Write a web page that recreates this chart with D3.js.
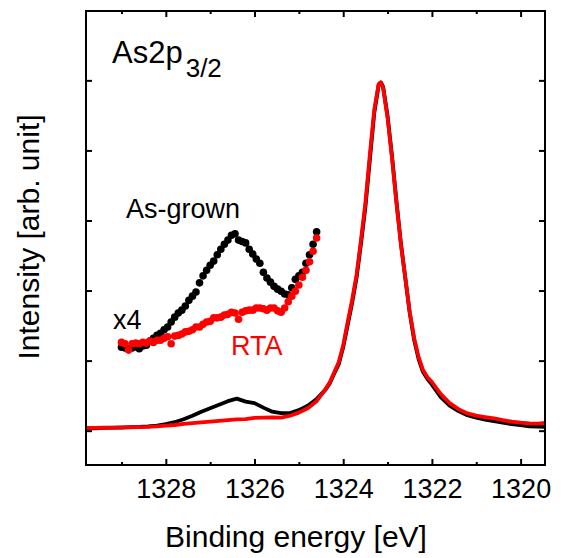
<!DOCTYPE html>
<html>
<head>
<meta charset="utf-8">
<script src="https://cdn.jsdelivr.net/npm/d3@7"></script>
<style>
  body { margin: 0; background: #fff; }
  svg text { font-family: "Liberation Sans", Arial, sans-serif; fill: #000; }
</style>
</head>
<body>
<svg id="chart" width="563" height="558"></svg>
<script>
// binding energy grid of the full spectra (eV)
const lineEnergy = [
  1329.8, 1329.6, 1329.4, 1329.2, 1329.0, 1328.8, 1328.6, 1328.4, 1328.2, 1328.0,
  1327.8, 1327.6, 1327.4, 1327.2, 1327.0, 1326.8, 1326.6, 1326.4, 1326.2, 1326.0,
  1325.8, 1325.6, 1325.4, 1325.2, 1325.0, 1324.8, 1324.6, 1324.4, 1324.3, 1324.2,
  1324.1, 1324.0, 1323.9, 1323.8, 1323.7, 1323.6, 1323.5, 1323.4, 1323.3, 1323.2,
  1323.15, 1323.1, 1323.0, 1322.9, 1322.8, 1322.7, 1322.6, 1322.5, 1322.4, 1322.3,
  1322.2, 1322.1, 1322.0, 1321.8, 1321.6, 1321.4, 1321.2, 1321.0, 1320.8, 1320.6,
  1320.4, 1320.2, 1320.0, 1319.8, 1319.6, 1319.45
];

const asGrownLine = [
  0.036, 0.033, 0.039, 0.043, 0.043, 0.050, 0.053, 0.060, 0.071, 0.093,
  0.121, 0.164, 0.214, 0.271, 0.321, 0.371, 0.421, 0.457, 0.414, 0.393,
  0.329, 0.271, 0.250, 0.250, 0.293, 0.357, 0.450, 0.586, 0.679, 0.821,
  0.950, 1.193, 1.507, 1.821, 2.179, 2.664, 3.193, 3.864, 4.536, 4.936,
  4.971, 4.907, 4.493, 3.921, 3.279, 2.679, 2.179, 1.679, 1.293, 1.021,
  0.836, 0.736, 0.657, 0.479, 0.357, 0.279, 0.221, 0.186, 0.157, 0.136,
  0.114, 0.093, 0.079, 0.061, 0.057, 0.054
];

const rtaLine = [
  0.040, 0.039, 0.043, 0.041, 0.046, 0.047, 0.050, 0.053, 0.060, 0.071,
  0.081, 0.096, 0.107, 0.119, 0.129, 0.140, 0.150, 0.160, 0.164, 0.183,
  0.186, 0.189, 0.186, 0.214, 0.257, 0.321, 0.421, 0.593, 0.693, 0.836,
  0.979, 1.221, 1.550, 1.864, 2.221, 2.721, 3.250, 3.936, 4.579, 4.950,
  4.971, 4.893, 4.464, 3.893, 3.250, 2.664, 2.179, 1.693, 1.321, 1.050,
  0.864, 0.764, 0.693, 0.521, 0.393, 0.307, 0.246, 0.214, 0.193, 0.174,
  0.150, 0.129, 0.114, 0.104, 0.100, 0.111
];

// x4 magnified and shifted As 2p shoulder region
const dotEnergy = [
  1329.00, 1328.92, 1328.84, 1328.76, 1328.68, 1328.60, 1328.52, 1328.44, 1328.36, 1328.28,
  1328.20, 1328.12, 1328.04, 1327.96, 1327.88, 1327.80, 1327.72, 1327.64, 1327.56, 1327.48,
  1327.40, 1327.32, 1327.24, 1327.16, 1327.08, 1327.00, 1326.92, 1326.84, 1326.76, 1326.68,
  1326.60, 1326.52, 1326.44, 1326.36, 1326.28, 1326.20, 1326.12, 1326.04, 1325.96, 1325.88,
  1325.80, 1325.72, 1325.64, 1325.56, 1325.48, 1325.40, 1325.32, 1325.24, 1325.16, 1325.08,
  1325.00, 1324.92, 1324.84, 1324.76, 1324.68, 1324.60
];

const asGrownDots = [
  1.19, 1.18, 1.17, 1.18, 1.20, 1.17, 1.21, 1.22, 1.28, 1.32,
  1.36, 1.39, 1.44, 1.48, 1.55, 1.62, 1.68, 1.72, 1.78, 1.86,
  1.92, 1.98, 2.11, 2.21, 2.29, 2.36, 2.42, 2.51, 2.59, 2.66,
  2.72, 2.79, 2.81, 2.72, 2.70, 2.68, 2.59, 2.52, 2.45, 2.39,
  2.26, 2.18, 2.12, 2.06, 2.02, 1.99, 1.95, 1.94, 2.04, 2.16,
  2.21, 2.26, 2.39, 2.51, 2.66, 2.84
];

const rtaDots = [
  1.26, 1.24, 1.15, 1.24, 1.25, 1.24, 1.26, 1.25, 1.28, 1.26,
  1.29, 1.29, 1.32, 1.34, 1.24, 1.35, 1.36, 1.38, 1.41, 1.42,
  1.44, 1.48, 1.48, 1.52, 1.55, 1.56, 1.61, 1.61, 1.62, 1.65,
  1.66, 1.69, 1.68, 1.59, 1.69, 1.71, 1.72, 1.72, 1.75, 1.75,
  1.74, 1.72, 1.75, 1.75, 1.71, 1.69, 1.75, 1.84, 1.92, 1.99,
  2.08, 2.19, 2.29, 2.41, 2.56, 2.75
];

const xTicks = [1328, 1326, 1324, 1322, 1320];
const xMinorTicks = [1329, 1327, 1325, 1323, 1321];
const yTicks = [0, 1, 2, 3, 4, 5];

const svg = d3.select('#chart');
const width = 563, height = 558;
const margin = { top: 11, right: 18, bottom: 93, left: 86 };

const x = d3.scaleLinear()
  .domain([1329.8, 1319.45])
  .range([margin.left, width - margin.right]);

const y = d3.scaleLinear()
  .domain([-0.49, 5.99])
  .range([height - margin.bottom, margin.top]);

const zip = (es, vs) => es.map((e, i) => ({ e: e, v: vs[i] }));

// axes, ticks pointing inward
svg.append('g')
  .attr('transform', `translate(0,${height - margin.bottom})`)
  .call(d3.axisBottom(x).tickValues(xTicks).tickSize(-6).tickPadding(14).tickFormat(d3.format('d')))
  .call(g => g.select('.domain').remove())
  .selectAll('text')
  .style('font-size', '27px');

svg.append('g')
  .attr('transform', `translate(0,${height - margin.bottom})`)
  .call(d3.axisBottom(x).tickValues(xMinorTicks).tickSize(-3).tickFormat(''))
  .call(g => g.select('.domain').remove());

svg.append('g')
  .attr('transform', `translate(0,${margin.top})`)
  .call(d3.axisTop(x).tickValues(xTicks).tickSize(-6).tickFormat(''))
  .call(g => g.select('.domain').remove());

svg.append('g')
  .attr('transform', `translate(0,${margin.top})`)
  .call(d3.axisTop(x).tickValues(xMinorTicks).tickSize(-3).tickFormat(''))
  .call(g => g.select('.domain').remove());

svg.append('g')
  .attr('transform', `translate(${margin.left},0)`)
  .call(d3.axisLeft(y).tickValues(yTicks).tickSize(-6).tickFormat(''))
  .call(g => g.select('.domain').remove());

svg.append('g')
  .attr('transform', `translate(${width - margin.right},0)`)
  .call(d3.axisRight(y).tickValues(yTicks).tickSize(-6).tickFormat(''))
  .call(g => g.select('.domain').remove());

svg.selectAll('.tick line')
  .attr('stroke', '#000')
  .attr('stroke-width', 2);

// spectra
const line = d3.line()
  .x(d => x(d.e))
  .y(d => y(d.v));

svg.append('path')
  .datum(zip(lineEnergy, asGrownLine))
  .attr('d', line)
  .attr('fill', 'none')
  .attr('stroke', '#000')
  .attr('stroke-width', 3.8)
  .attr('stroke-linejoin', 'round');

svg.append('path')
  .datum(zip(lineEnergy, rtaLine))
  .attr('d', line)
  .attr('fill', 'none')
  .attr('stroke', '#ff0000')
  .attr('stroke-width', 3.8)
  .attr('stroke-linejoin', 'round');

svg.selectAll('.dot-asgrown')
  .data(zip(dotEnergy, asGrownDots))
  .enter()
  .append('circle')
  .attr('class', 'dot-asgrown')
  .attr('cx', d => x(d.e))
  .attr('cy', d => y(d.v))
  .attr('r', 3.8)
  .attr('fill', '#000');

svg.selectAll('.dot-rta')
  .data(zip(dotEnergy, rtaDots))
  .enter()
  .append('circle')
  .attr('class', 'dot-rta')
  .attr('cx', d => x(d.e))
  .attr('cy', d => y(d.v))
  .attr('r', 3.8)
  .attr('fill', '#ff0000');

// frame
svg.append('rect')
  .attr('x', margin.left)
  .attr('y', margin.top)
  .attr('width', width - margin.left - margin.right)
  .attr('height', height - margin.top - margin.bottom)
  .attr('fill', 'none')
  .attr('stroke', '#000')
  .attr('stroke-width', 2);

// labels
const title = svg.append('text')
  .attr('x', 112)
  .attr('y', 63)
  .style('font-size', '31px');
title.append('tspan').text('As2p');
title.append('tspan')
  .attr('dx', 3)
  .attr('dy', 14)
  .style('font-size', '26px')
  .text('3/2');

svg.append('text')
  .attr('x', 126)
  .attr('y', 218)
  .style('font-size', '27px')
  .text('As-grown');

svg.append('text')
  .attr('x', 113)
  .attr('y', 329)
  .style('font-size', '27px')
  .text('x4');

svg.append('text')
  .attr('x', 231)
  .attr('y', 355)
  .style('font-size', '27px')
  .style('fill', '#ff0000')
  .text('RTA');

svg.append('text')
  .attr('x', 296)
  .attr('y', 547)
  .style('text-anchor', 'middle')
  .style('font-size', '30px')
  .text('Binding energy [eV]');

svg.append('text')
  .attr('transform', 'rotate(-90)')
  .attr('x', -237)
  .attr('y', 39)
  .style('text-anchor', 'middle')
  .style('font-size', '30px')
  .text('Intensity [arb. unit]');
</script>
</body>
</html>
